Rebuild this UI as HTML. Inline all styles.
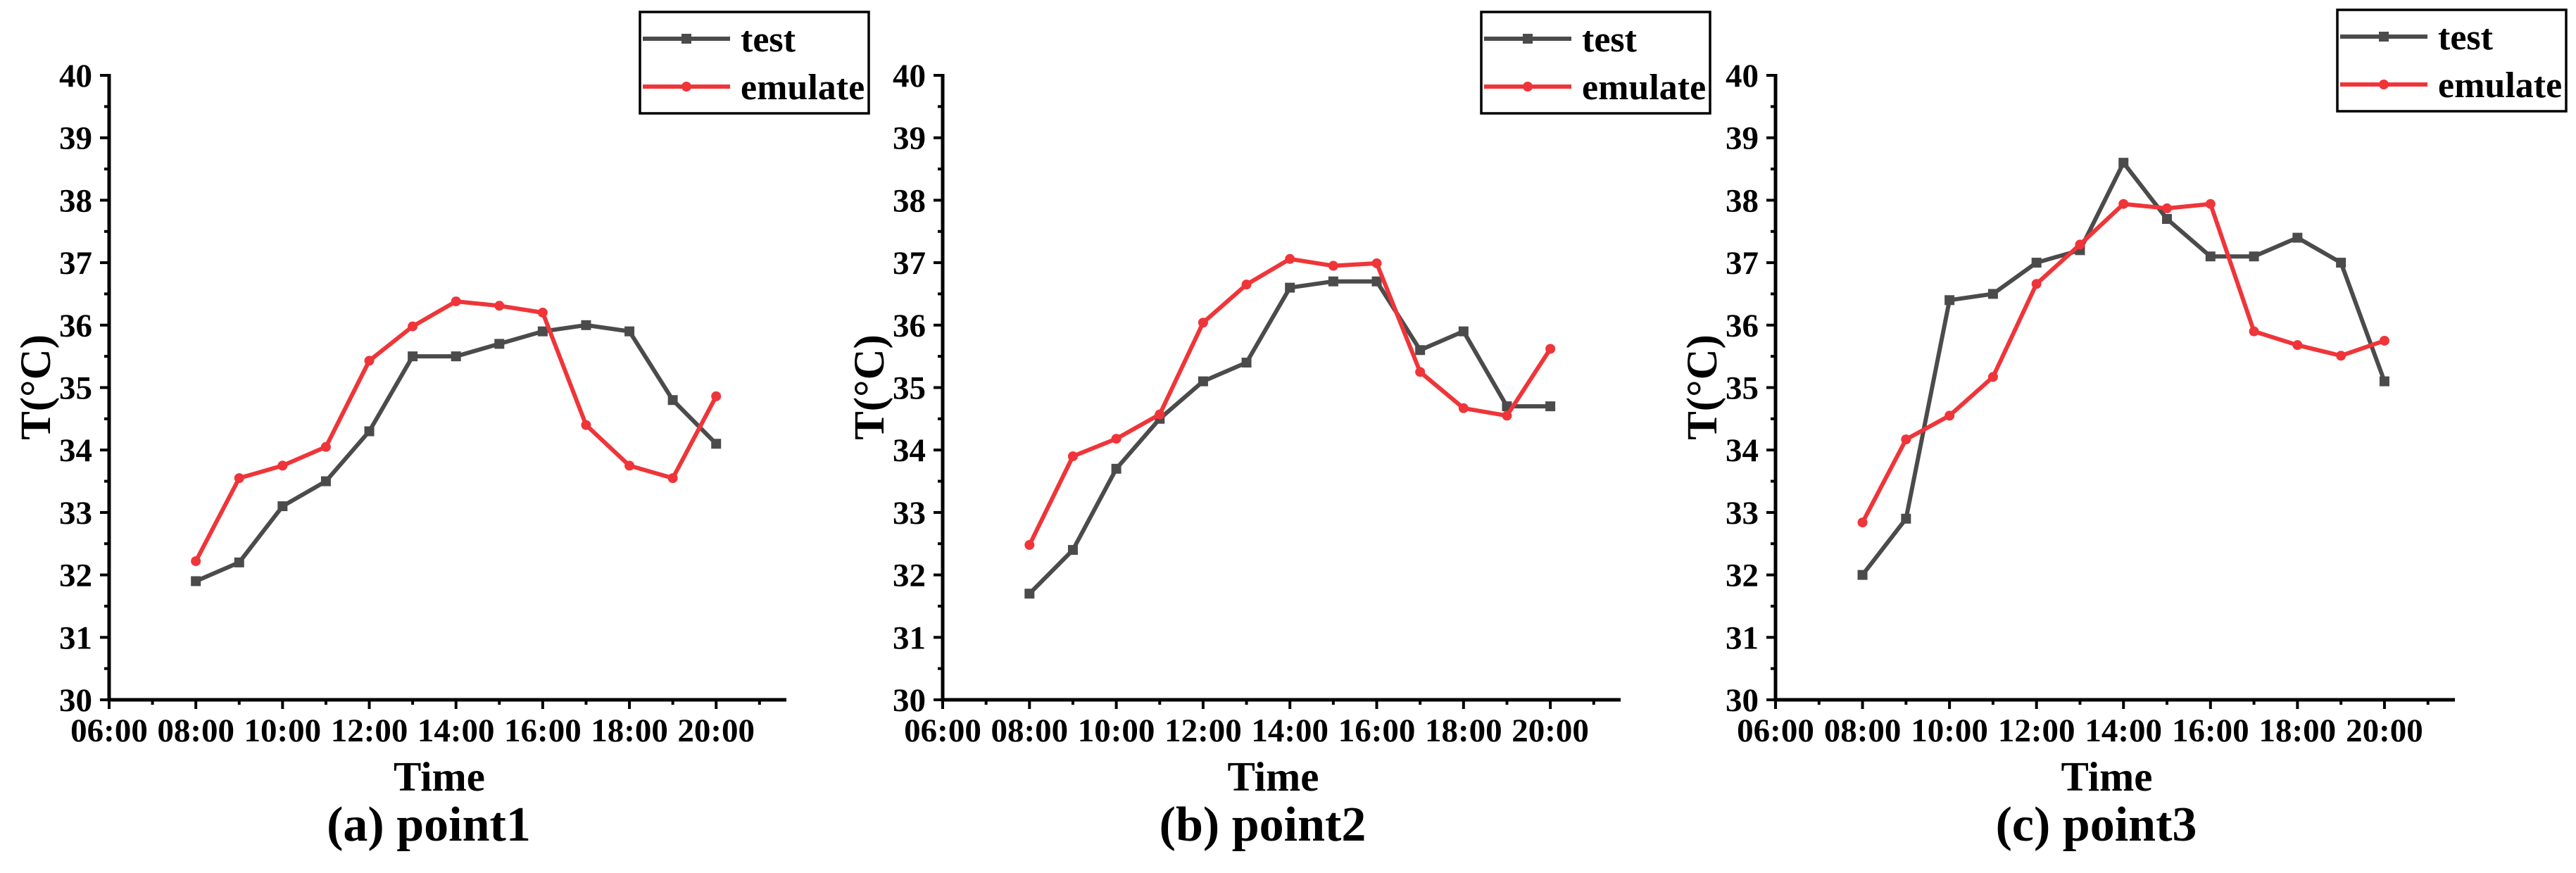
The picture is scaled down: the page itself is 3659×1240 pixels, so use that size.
<!DOCTYPE html>
<html><head><meta charset="utf-8">
<style>
html,body{margin:0;padding:0;background:#fff;}
svg{display:block;}
text{font-family:"Liberation Serif",serif;font-weight:bold;fill:#000;}
</style></head>
<body>
<svg id="chart" width="3659" height="1240" viewBox="0 0 3659 1240" xmlns="http://www.w3.org/2000/svg"></svg>
<script>
// Data
const hours = [8,9,10,11,12,13,14,15,16,17,18,19,20];
const xTickLabels = ["06:00","08:00","10:00","12:00","14:00","16:00","18:00","20:00"];
const xTickHours = [6,8,10,12,14,16,18,20];
const yTicks = [30,31,32,33,34,35,36,37,38,39,40];
const test1 = [31.9,32.2,33.1,33.5,34.3,35.5,35.5,35.7,35.9,36.0,35.9,34.8,34.1];
const emu1  = [32.22,33.55,33.75,34.05,35.43,35.98,36.38,36.31,36.2,34.4,33.75,33.55,34.86];
const test2 = [31.7,32.4,33.7,34.5,35.1,35.4,36.6,36.7,36.7,35.6,35.9,34.7,34.7];
const emu2  = [32.48,33.9,34.18,34.57,36.04,36.65,37.06,36.95,36.99,35.25,34.67,34.55,35.62];
const test3 = [32.0,32.9,36.4,36.5,37.0,37.2,38.6,37.7,37.1,37.1,37.4,37.0,35.1];
const emu3  = [32.84,34.17,34.55,35.17,36.66,37.29,37.94,37.87,37.94,35.9,35.68,35.51,35.75];
const captions = ["(a) point1","(b) point2","(c) point3"];

const panels = [
  {x0:155, x1:1117, lx:909, ly:17, t:test1, e:emu1},
  {x0:1339, x1:2302, lx:2104, ly:17, t:test2, e:emu2},
  {x0:2522, x1:3487, lx:3320, ly:14, t:test3, e:emu3}
];
const Y0=994, Y1=107, XMIN=6, XMAX=21.62, YMIN=30, YMAX=40;
const GRAY="#4b4b4b", RED="#ef3539";
const svg=document.getElementById('chart');
const NS="http://www.w3.org/2000/svg";
function mk(tag,attrs,parent){const el=document.createElementNS(NS,tag);for(const k in attrs)el.setAttribute(k,attrs[k]);(parent||svg).appendChild(el);return el;}

panels.forEach((p,pi)=>{
  const g=mk('g',{});
  
  
  const sx=h=>p.x0+(h-XMIN)/(XMAX-XMIN)*(p.x1-p.x0);
  const sy=v=>Y0-(v-YMIN)/(YMAX-YMIN)*(Y0-Y1);
  // y ticks
  yTicks.forEach(v=>{
    mk('line',{x1:p.x0-13,x2:p.x0,y1:sy(v),y2:sy(v),stroke:'#000','stroke-width':4},g);
    if(v<YMAX) mk('line',{x1:p.x0-7,x2:p.x0,y1:sy(v+0.5),y2:sy(v+0.5),stroke:'#000','stroke-width':4},g);
    const t=mk('text',{x:p.x0-24,y:sy(v)+16,'text-anchor':'end','font-size':47},g);
    t.textContent=v;
    
    
  });
  // x ticks
  for(let h=6;h<=21;h++){
    const major=h%2===0;
    mk('line',{x1:sx(h),x2:sx(h),y1:Y0,y2:Y0+(major?13:7),stroke:'#000','stroke-width':4},g);
  }
  xTickHours.forEach((h,i)=>{
    const t=mk('text',{x:sx(h),y:1053,'text-anchor':'middle','font-size':47},g);
    t.textContent=xTickLabels[i];
    
    
  });
  // axes
  mk('path',{d:`M${p.x0},${Y1-2} L${p.x0},${Y0} L${p.x1},${Y0}`,stroke:'#000','stroke-width':5,fill:'none'},g);
  // titles
  const xt=mk('text',{x:(p.x0+p.x1)/2-12,y:1123,'text-anchor':'middle','font-size':59},g);
  xt.textContent='Time';
  
  
  const yx=p.x0-84, yy=550;
  const yt=mk('text',{x:yx,y:yy,'text-anchor':'middle','font-size':61,transform:`rotate(-90 ${yx} ${yy})`},g);
  yt.textContent='T(°C)';
  
  
  const cp=mk('text',{x:(p.x0+p.x1)/2-27,y:1194,'text-anchor':'middle','font-size':70},g);
  cp.textContent=captions[pi];
  
  
  // series
  const tl=mk('polyline',{points:hours.map((h,i)=>sx(h)+','+sy(p.t[i])).join(' '),stroke:GRAY,'stroke-width':6,fill:'none','stroke-linejoin':'round'},g);
  
  
  hours.forEach((h,i)=>{
    const m=mk('rect',{x:sx(h)-7,y:sy(p.t[i])-7,width:14,height:14,fill:GRAY},g);
    
    
  });
  const el=mk('polyline',{points:hours.map((h,i)=>sx(h)+','+sy(p.e[i])).join(' '),stroke:RED,'stroke-width':6,fill:'none','stroke-linejoin':'round'},g);
  
  
  hours.forEach((h,i)=>{
    const m=mk('circle',{cx:sx(h),cy:sy(p.e[i]),r:7,fill:RED},g);
    
    
  });
  // legend
  const lg=mk('g',{},g);
  
  
  mk('rect',{x:p.lx,y:p.ly,width:325,height:144,fill:'#fff',stroke:'#000','stroke-width':3.5},lg);
  const rows=[{n:'test',c:GRAY,sq:true},{n:'emulate',c:RED,sq:false}];
  rows.forEach((r,ri)=>{
    const yy2=p.ly+38+ri*68;
    const e=mk('g',{},lg);
    
    
    mk('line',{x1:p.lx+4,x2:p.lx+128,y1:yy2,y2:yy2,stroke:r.c,'stroke-width':6},e);
    if(r.sq) mk('rect',{x:p.lx+66-7,y:yy2-7,width:14,height:14,fill:r.c},e);
    else mk('circle',{cx:p.lx+66,cy:yy2,r:7,fill:r.c},e);
    const t=mk('text',{x:p.lx+143,y:yy2+18,'font-size':52},e);
    t.textContent=r.n;
  });
});
</script>
</body></html>
